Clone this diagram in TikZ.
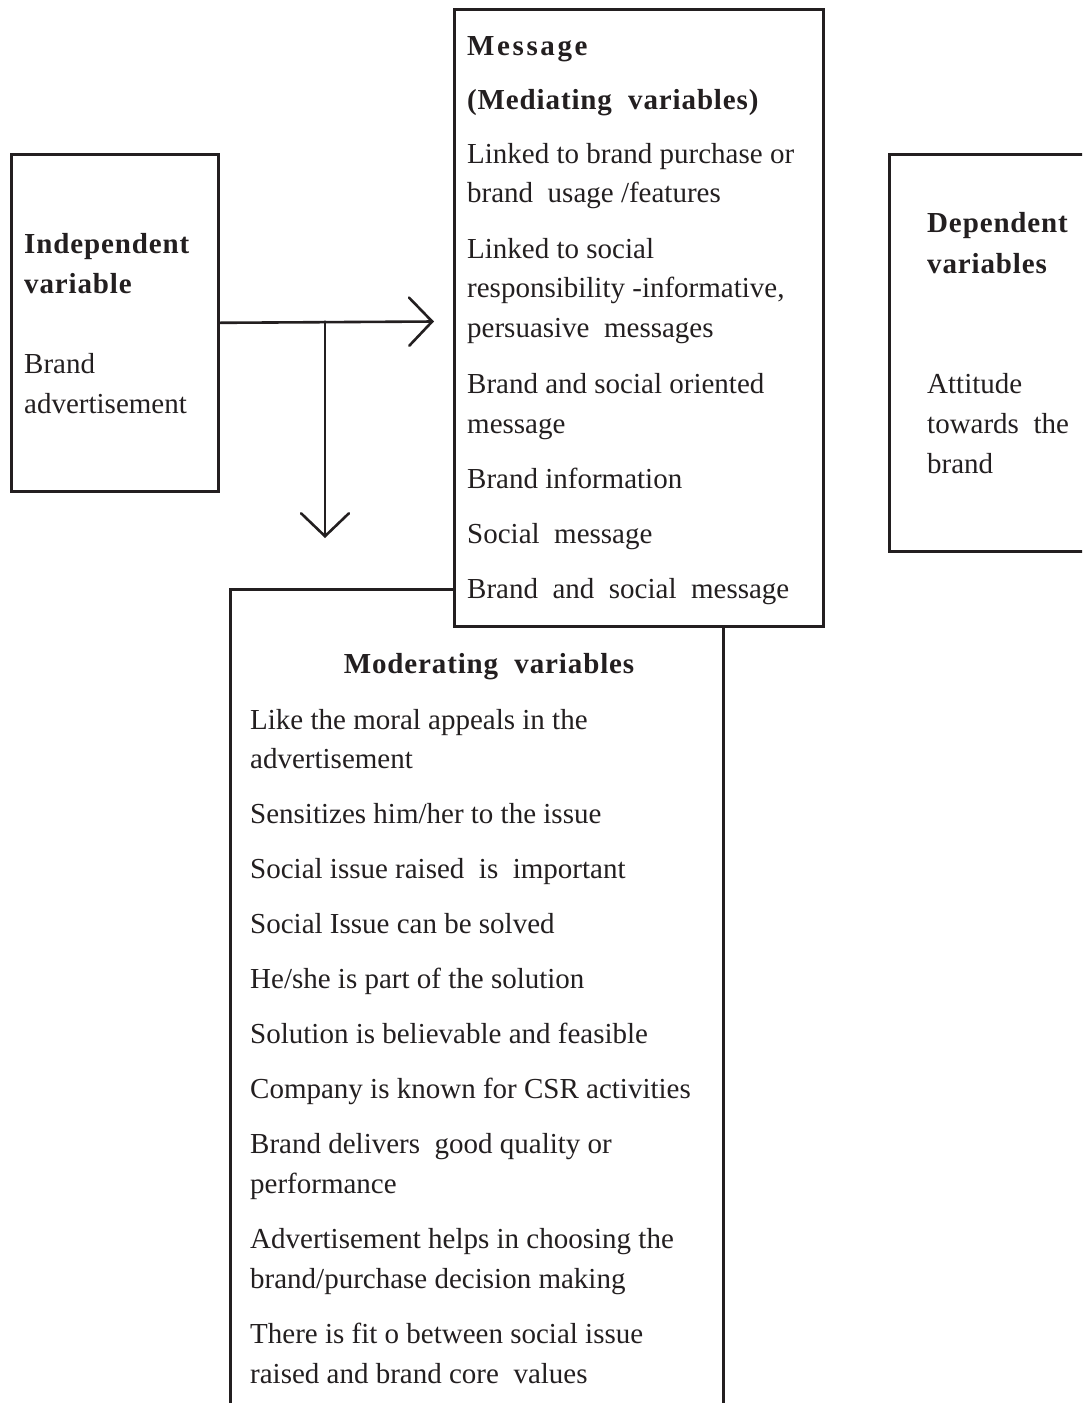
\documentclass[tikz,border=0pt]{standalone}
\usepackage{fontspec}
\setmainfont{Liberation Serif}
\usetikzlibrary{arrows.meta}
\definecolor{ink}{HTML}{231F20}
\begin{document}
\begin{tikzpicture}[x=1pt,y=-1pt,
  box/.style={draw=ink, line width=2.6pt, fill=white, inner sep=0pt, anchor=north west},
  txt/.style={anchor=base west, inner sep=0pt, text=ink, font=\fontsize{29}{40}\selectfont},
  hd/.style={anchor=base west, inner sep=0pt, text=ink, font=\fontsize{29}{40}\selectfont\bfseries\addfontfeatures{LetterSpace=3}},
  hdsp/.style={anchor=base west, inner sep=0pt, text=ink, font=\fontsize{29}{40}\selectfont\bfseries\addfontfeatures{LetterSpace=9}},
  conn/.style={draw=ink, line width=2.6pt, line cap=round, -{Straight Barb[length=23pt,width=48pt,line cap=round]}}]
\useasboundingbox (0,0) rectangle (1082,1403);
\clip (0,0) rectangle (1082,1403);
\fill[white] (0,0) rectangle (1082,1403);
% boxes
\node[box, minimum width=207pt, minimum height=337pt] (ind) at (10,153) {};
\node[box, minimum width=493pt, minimum height=862pt] (mod) at (229,588) {};
\node[box, minimum width=369pt, minimum height=617pt] (msg) at (453,8) {};
\node[box, minimum width=232pt, minimum height=397pt] (dep) at (888,153) {};
% connectors
\coordinate (tip1) at (434,321.5);
\coordinate (br) at (325,321.5);
\coordinate (tip2) at (325,538);
\draw[conn] (ind.east) -- (tip1);
\draw[conn] (br) -- (tip2);
% independent
\node[hd] (t1) at (24,253) {Independent};
\node[hd] (t2) at (24,293) {variable};
\node[txt] (t3) at (24,373) {Brand};
\node[txt] (t4) at (24,413) {advertisement};
% message
\node[hdsp] (m1) at (467,55) {Message};
\node[hd] (m2) at (467,109) {(Mediating\ \ variables)};
\node[txt] (m3) at (467,163) {Linked to brand purchase or};
\node[txt] (m4) at (467,202) {brand\ \ usage /features};
\node[txt] (m5) at (467,258) {Linked to social};
\node[txt] (m6) at (467,297) {responsibility -informative,};
\node[txt] (m7) at (467,337) {persuasive\ \ messages};
\node[txt] (m8) at (467,393) {Brand and social oriented};
\node[txt] (m9) at (467,433) {message};
\node[txt] (m10) at (467,488) {Brand information};
\node[txt] (m11) at (467,543) {Social\ \ message};
\node[txt] (m12) at (467,598) {Brand\ \ and\ \ social\ \ message};
% dependent
\node[hd] (d1) at (927,232) {Dependent};
\node[hd] (d2) at (927,273) {variables};
\node[txt] (d3) at (927,393) {Attitude};
\node[txt] (d4) at (927,433) {towards\ \ the};
\node[txt] (d5) at (927,473) {brand};
% moderating
\node[hd, anchor=base] (h0) at (489,673) {Moderating\ \ variables};
\node[txt] (o1) at (250,729) {Like the moral appeals in the};
\node[txt] (o2) at (250,768) {advertisement};
\node[txt] (o3) at (250,823) {Sensitizes him/her to the issue};
\node[txt] (o4) at (250,878) {Social issue raised\ \ is\ \ important};
\node[txt] (o5) at (250,933) {Social Issue can be solved};
\node[txt] (o6) at (250,988) {He/she is part of the solution};
\node[txt] (o7) at (250,1043) {Solution is believable and feasible};
\node[txt] (o8) at (250,1098) {Company is known for CSR activities};
\node[txt] (o9) at (250,1153) {Brand delivers\ \ good quality or};
\node[txt] (o10) at (250,1193) {performance};
\node[txt] (o11) at (250,1248) {Advertisement helps in choosing the};
\node[txt] (o12) at (250,1288) {brand/purchase decision making};
\node[txt] (o13) at (250,1343) {There is fit o between social issue};
\node[txt] (o14) at (250,1383) {raised and brand core\ \ values};
\end{tikzpicture}
\end{document}
